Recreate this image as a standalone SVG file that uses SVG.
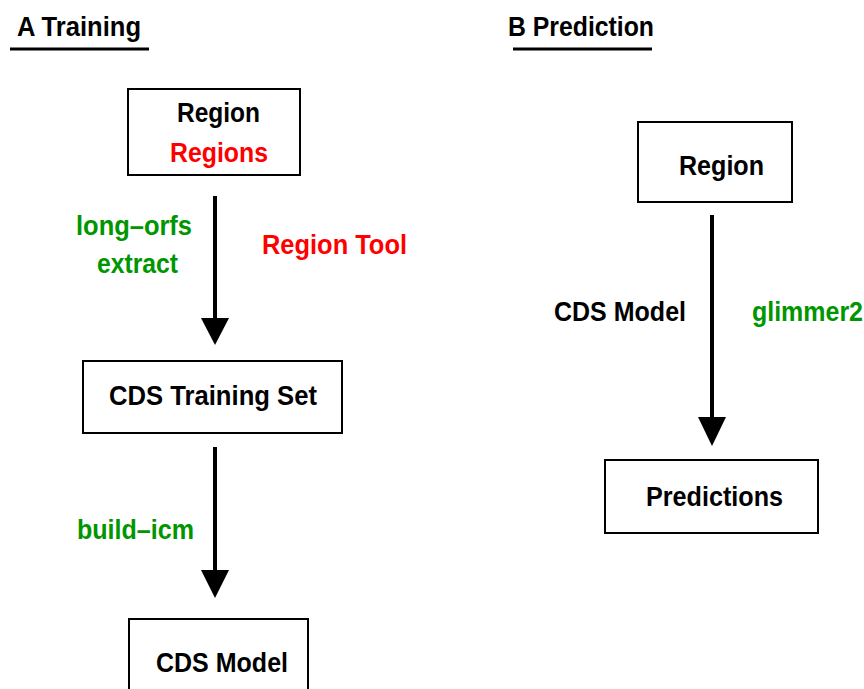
<svg xmlns="http://www.w3.org/2000/svg" width="864" height="689" viewBox="0 0 864 689">
  <style>
    text { font-family: "Liberation Sans", Arial, sans-serif; font-weight: bold; font-size: 27px; }
    .k { fill: #000; }
    .r { fill: #ff0000; }
    .g { fill: #009600; }
    .m { text-anchor: middle; }
    .box { fill: #fff; stroke: #000; stroke-width: 2; }
    .shaft { stroke: #000; stroke-width: 4; fill: none; }
    .head { fill: #000; }
    .rule { stroke: #000; stroke-width: 3; }
  </style>

  <!-- panel titles -->
  <g id="title-a">
    <text class="k m" x="79" y="36" textLength="124" lengthAdjust="spacingAndGlyphs">A Training</text>
    <line class="rule" x1="10" y1="49" x2="149" y2="49"/>
  </g>
  <g id="title-b">
    <text class="k m" x="581" y="36" textLength="146" lengthAdjust="spacingAndGlyphs">B Prediction</text>
    <line class="rule" x1="513" y1="49" x2="652" y2="49"/>
  </g>

  <!-- connectors -->
  <g id="connectors">
    <line class="shaft" x1="215" y1="196" x2="215" y2="322"/>
    <polygon class="head" points="201,318 229,318 215,345"/>
    <line class="shaft" x1="215" y1="447" x2="215" y2="574"/>
    <polygon class="head" points="201,570 229,570 215,598"/>
    <line class="shaft" x1="712" y1="215" x2="712" y2="421"/>
    <polygon class="head" points="698,417 726,417 712,446"/>
  </g>

  <!-- connector labels -->
  <g id="labels">
    <text class="g m" x="134" y="235" textLength="116" lengthAdjust="spacingAndGlyphs">long–orfs</text>
    <text class="g m" x="137.5" y="273" textLength="81" lengthAdjust="spacingAndGlyphs">extract</text>
    <text class="r m" x="334.5" y="254" textLength="145" lengthAdjust="spacingAndGlyphs">Region Tool</text>
    <text class="g m" x="135.5" y="539" textLength="117" lengthAdjust="spacingAndGlyphs">build–icm</text>
    <text class="k m" x="620" y="321" textLength="132" lengthAdjust="spacingAndGlyphs">CDS Model</text>
    <text class="g" x="752" y="321" textLength="111" lengthAdjust="spacingAndGlyphs">glimmer2</text>
  </g>

  <!-- training nodes -->
  <g id="node-region-a">
    <rect class="box" x="128" y="89" width="172" height="86"/>
    <text class="k m" x="218.5" y="122" textLength="83" lengthAdjust="spacingAndGlyphs">Region</text>
    <text class="r m" x="219" y="162" textLength="98" lengthAdjust="spacingAndGlyphs">Regions</text>
  </g>
  <g id="node-cds-training-set">
    <rect class="box" x="83" y="361" width="259" height="72"/>
    <text class="k m" x="213" y="405" textLength="208" lengthAdjust="spacingAndGlyphs">CDS Training Set</text>
  </g>
  <g id="node-cds-model">
    <rect class="box" x="129" y="619" width="179" height="90"/>
    <text class="k m" x="222" y="672" textLength="132" lengthAdjust="spacingAndGlyphs">CDS Model</text>
  </g>

  <!-- prediction nodes -->
  <g id="node-region-b">
    <rect class="box" x="638" y="122" width="154" height="80"/>
    <text class="k m" x="721.5" y="175" textLength="85" lengthAdjust="spacingAndGlyphs">Region</text>
  </g>
  <g id="node-predictions">
    <rect class="box" x="605" y="460" width="213" height="73"/>
    <text class="k m" x="714.5" y="506" textLength="137" lengthAdjust="spacingAndGlyphs">Predictions</text>
  </g>
</svg>
